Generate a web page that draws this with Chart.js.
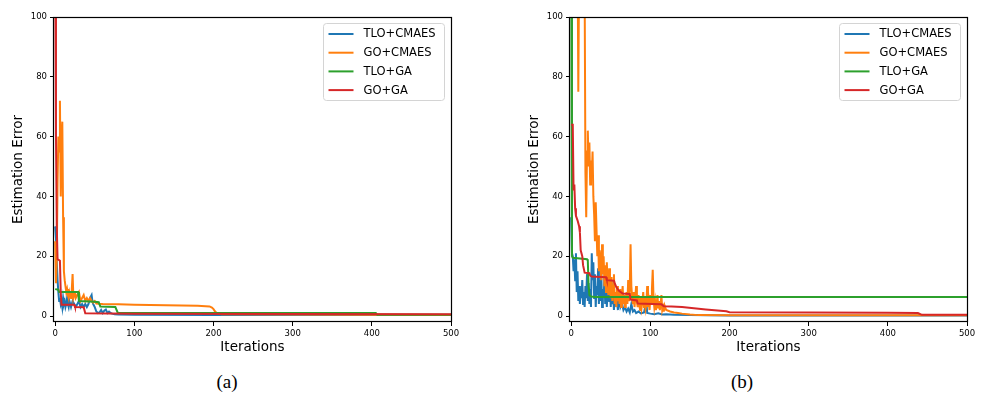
<!DOCTYPE html>
<html>
<head>
<meta charset="utf-8">
<script src="https://cdn.jsdelivr.net/npm/chart.js@4.4.1/dist/chart.umd.min.js"></script>
<style>
  html, body { margin: 0; padding: 0; background: #fff; }
  #wrap { position: relative; width: 982px; height: 403px; overflow: hidden; }
  canvas { position: absolute; top: 0; }
  #panelA { left: 0; }
  #panelB { left: 491px; }
  .caption { position: absolute; top: 371px; width: 60px; text-align: center;
             font-family: "Liberation Serif", "DejaVu Serif", serif; font-size: 19px; color: #000; }
</style>
</head>
<body>
<div id="wrap">
  <canvas id="panelA" width="491" height="365"></canvas>
  <canvas id="panelB" width="491" height="365"></canvas>
  <div class="caption" style="left:197px">(a)</div>
  <div class="caption" style="left:712px">(b)</div>
</div>
<script>
// Method names, same order in both panels
const methods = ['TLO+CMAES', 'GO+CMAES', 'TLO+GA', 'GO+GA'];
const xTicks = [0, 100, 200, 300, 400, 500];
const yTicks = [0, 20, 40, 60, 80, 100];

// Panel (a)
const aTloCmaesIter = [0,1,2,3,4,5,6,7,8,9,10,11,12,13,14,15,16,17,18,19,20,22,24,26,28,30,32,34,36,38,40,42,44,46,47,48,50,52,54,56,58,60,62,64,66,68,70,72,75,80,100,200,300,400,500];
const aTloCmaesErr  = [30,26,18,12,8,5,6,4,5,3,6,4,5,3,4,6,4,3,5,4,3,5,4,3,4,5,3,4,3,4,3,4,6,7,5,4,3,1.5,1,1.2,2,1,1.8,2.2,1,1.5,1,0.8,0.6,0.5,0.4,0.3,0.3,0.3,0.3];
const aGoCmaesIter  = [0,1,2,3,4,5,6,7,8,9,10,11,12,13,14,15,16,17,18,19,20,21,22,23,24,25,26,28,30,32,34,36,38,40,42,44,46,48,50,52,55,60,80,100,120,140,160,180,190,195,198,200,202,204,206,210,300,400,500];
const aGoCmaesErr   = [25,11,20,45,60,55,72,40,60,65,33,15,12,10,8,9,7,6,8,7,6,9,14,6,7,8,6,7,8,5,6,7,5,6,5,6,5,4.5,5,4.2,4.1,4,3.9,3.8,3.7,3.6,3.5,3.4,3.3,3.2,2.8,2.3,1.5,1,0.8,0.6,0.5,0.4,0.3];
const aTloGaIter    = [0,4,5,29,30,50,55,57,76,79,405,407,500];
const aTloGaErr     = [9,8.8,8,8,5,4.8,4.6,3.2,3,1.1,1,0.4,0.4];
const aGoGaIter     = [0,1,2,3,6,7,8,24,25,36,38,100,300,500];
const aGoGaErr      = [120,60,30,19,18.5,8,3.8,3.8,3,2.9,0.9,0.8,0.7,0.6];

// Panel (b)
const bTloCmaesIter = [0,1,2,3,4,5,6,7,8,9,10,11,12,13,14,15,16,17,18,19,20,21,22,23,24,25,26,27,28,29,30,31,32,33,34,35,36,37,38,39,40,41,42,43,44,45,46,47,48,49,50,51,52,53,54,55,56,57,58,59,60,
  62,64,66,68,70,72,74,76,78,80,82,85,88,92,95,96,100,105,110,115,120,130,150,200,300,500];
const bTloCmaesErr  = [33,21,20,15,19,12,21,8,15,5,10,4,9,6,12,4,8,3,10,6,14,5,11,4,9,3,21,12,18,6,14,3,10,7,16,4,12,5,15,3,9,6,13,4,11,3,8,14,5,9,3,12,4,7,2,6,8,3,5,2,6,
  3,4.5,2,3,1.5,2.5,1.2,4,1.5,2,1,1.5,0.9,1.2,5,1,0.8,0.6,0.9,0.5,0.6,0.4,0.3,0.2,0.15,0.15];
const bGoCmaesIter  = [0,4,8,9,10,11,12,13,14,15,16,17,18,19,20,21,22,23,24,25,26,27,28,29,30,31,32,33,34,35,36,37,38,39,40,41,42,43,44,45,46,47,48,49,50,51,52,53,54,55,56,57,58,59,60,
  61,62,63,64,65,66,67,68,69,70,71,72,73,74,75,76,77,78,79,80,81,82,83,84,85,86,87,88,89,90,91,92,93,94,95,96,97,98,99,100,101,102,103,104,105,106,107,108,109,110,111,112,113,114,115,116,117,118,
  120,125,130,135,140,150,160,200,500];
const bGoCmaesErr   = [140,135,125,75,115,120,125,118,130,122,115,110,48,33,55,62,50,58,44,52,47,55,40,34,25,38,29,20,27,15,22,18,12,24,14,20,10,17,8,18,11,7,16,9,6,13,5,10,14,4,8,3,10,5,8,
  4,9,3,6,10,4,7,3,5,8,4,12,5,9,24,10,6,4,8,3,6,10,5,3,7,4,2,6,3,5,8,3,6,2.5,4,10,3,5,2,7,4,9,15.5,6,3,5,2,4,7,2.5,5,2,4,7,2,3,1.5,3.5,
  2,1.5,1.2,1,0.8,0.5,0.3,0.25,0.25];
const bTloGaIter    = [0,1,2,20,21,22,23,25,30,500];
const bTloGaErr     = [130,20,19.5,19,18.5,10,7,6.5,6.4,6.4];
const bGoGaIter     = [0,2,3,4,5,6,8,10,11,12,14,15,17,23,24,26,44,45,54,55,57,60,65,74,75,83,84,103,114,117,127,140,170,196,200,300,400,438,443,500];
const bGoGaErr      = [64,64,42,44,36,33.5,32,30,28,22,20,17,14.5,14.3,13.5,13.2,13,12,11.8,11,9.7,8.5,7.5,7.4,5.5,5.2,4.2,4,3.9,3.3,3.2,3,2.2,1.6,1.3,1.2,1.1,1,0.4,0.4];

const colors = ['#1f77b4', '#ff7f0e', '#2ca02c', '#d62728'];
const FONT = '"DejaVu Sans", sans-serif';

function toPoints(xs, ys) {
  return xs.map((x, i) => ({ x: x, y: ys[i] }));
}

// full black box round the plot area
const frame = {
  id: 'frame',
  afterDatasetsDraw(chart) {
    const { ctx, chartArea: a } = chart;
    ctx.save();
    ctx.strokeStyle = '#000';
    ctx.lineWidth = 1.2;
    ctx.strokeRect(Math.round(a.left) - 0.5, Math.round(a.top) + 0.5,
                   Math.round(a.right - a.left) + 1, Math.round(a.bottom - a.top) - 1);
    ctx.restore();
  }
};

// legend box in the upper right corner of the axes
const legendBox = {
  id: 'legendBox',
  afterDraw(chart) {
    const { ctx, chartArea: a } = chart;
    const w = 121, h = 77;
    const x0 = Math.round(a.right - 7 - w) + 0.5, y0 = Math.round(a.top + 6) + 0.5;
    ctx.save();
    ctx.beginPath();
    ctx.roundRect(x0, y0, w, h, 3);
    ctx.fillStyle = 'rgba(255,255,255,0.8)';
    ctx.fill();
    ctx.strokeStyle = '#d4d4d4';
    ctx.lineWidth = 1;
    ctx.stroke();
    ctx.font = '11.5px ' + FONT;
    ctx.textBaseline = 'middle';
    chart.data.datasets.forEach((ds, i) => {
      const y = y0 + 10.5 + i * 18.7;
      ctx.strokeStyle = ds.borderColor;
      ctx.lineWidth = 2;
      ctx.beginPath();
      ctx.moveTo(x0 + 5, y);
      ctx.lineTo(x0 + 30, y);
      ctx.stroke();
      ctx.fillStyle = '#000';
      ctx.fillText(ds.label, x0 + 40, y + 0.5);
    });
    ctx.restore();
  }
};

function makePanel(id, series, padLeft, padRight) {
  const datasets = series.map((s, i) => ({
    label: methods[i],
    data: toPoints(s[0], s[1]),
    borderColor: colors[i],
    backgroundColor: colors[i],
    borderWidth: 2,
    pointRadius: 0,
    tension: 0,
    fill: false,
    order: 3 - i  // later methods drawn on top
  }));

  const tickGrid = { display: true, drawOnChartArea: false, drawTicks: true, tickLength: 4, tickColor: '#000', tickWidth: 1 };

  new Chart(document.getElementById(id), {
    type: 'line',
    data: { datasets: datasets },
    options: {
      responsive: false,
      animation: false,
      devicePixelRatio: 1,
      events: [],
      layout: { padding: { left: padLeft, right: padRight, top: 17, bottom: 0 } },
      plugins: { legend: { display: false }, tooltip: { enabled: false } },
      scales: {
        x: {
          type: 'linear',
          min: -1.5,
          max: 500,
          afterBuildTicks: ax => { ax.ticks = xTicks.map(v => ({ value: v })); },
          afterFit: ax => { ax.height = 43; },
          grid: tickGrid,
          border: { display: false },
          ticks: { color: '#000', font: { family: FONT, size: 8.5 }, padding: 3, autoSkip: false, maxRotation: 0 },
          title: { display: true, text: 'Iterations', color: '#000', font: { family: FONT, size: 13.5 }, padding: { top: 0, bottom: 9 } }
        },
        y: {
          type: 'linear',
          min: -2,
          max: 100,
          afterBuildTicks: ax => { ax.ticks = yTicks.map(v => ({ value: v })); },
          afterFit: ax => { ax.width = 54; },
          grid: tickGrid,
          border: { display: false },
          ticks: { color: '#000', font: { family: FONT, size: 8.5 }, padding: 3, autoSkip: false },
          title: { display: true, text: 'Estimation Error', color: '#000', font: { family: FONT, size: 13.5 }, padding: { top: 10, bottom: 0 } }
        }
      }
    },
    plugins: [frame, legendBox]
  });
}

makePanel('panelA', [
  [aTloCmaesIter, aTloCmaesErr],
  [aGoCmaesIter, aGoCmaesErr],
  [aTloGaIter, aTloGaErr],
  [aGoGaIter, aGoGaErr]
], 0, 40);

makePanel('panelB', [
  [bTloCmaesIter, bTloCmaesErr],
  [bGoCmaesIter, bGoCmaesErr],
  [bTloGaIter, bTloGaErr],
  [bGoGaIter, bGoGaErr]
], 25, 15);
</script>
</body>
</html>
